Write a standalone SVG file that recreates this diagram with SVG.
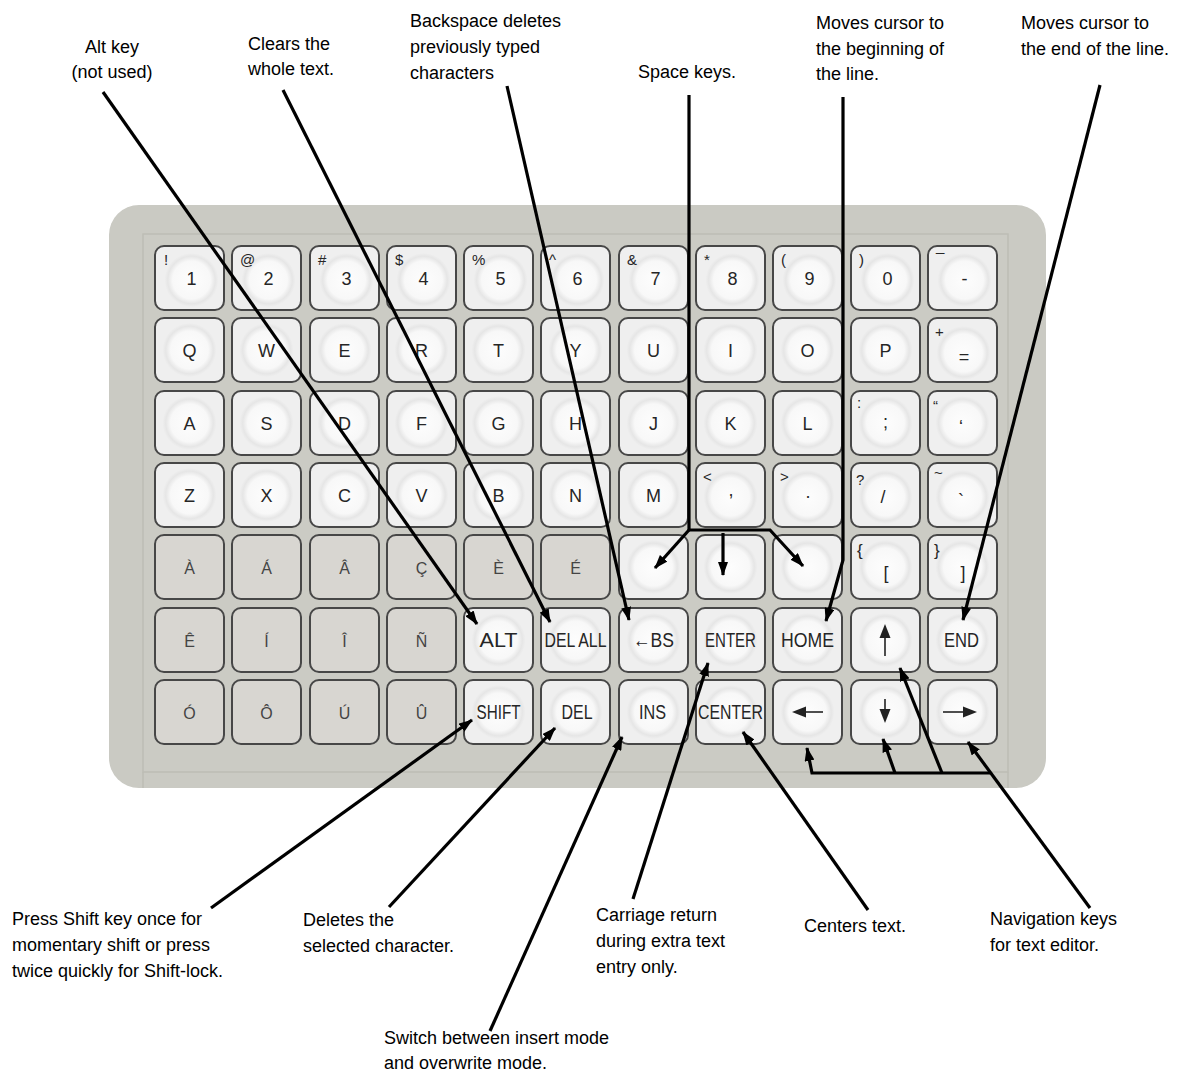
<svg xmlns="http://www.w3.org/2000/svg" width="1199" height="1075" viewBox="0 0 1199 1075">
<style>
.ann{font-family:"Liberation Sans",Arial,sans-serif;font-size:18px;fill:#000}
.k{fill:#efefef;stroke:#474747;stroke-width:2}
.ka{fill:#d8d6d1;stroke:#474747;stroke-width:2}
.c{fill:url(#rg)}
.m{font-family:"Liberation Sans",Arial,sans-serif;font-size:18px;fill:#262626;text-anchor:middle}
.s{font-family:"Liberation Sans",Arial,sans-serif;font-size:15px;fill:#262626}
.a{font-family:"Liberation Sans",Arial,sans-serif;font-size:16px;fill:#444;text-anchor:middle}
.w{font-family:"Liberation Sans",Arial,sans-serif;font-size:20px;fill:#262626;text-anchor:middle}
.conn path{stroke:#000;stroke-width:3.2;fill:none;stroke-linejoin:miter}
.ic{fill:#222}
.icl{stroke:#222;stroke-width:1.6}
</style>
<defs>
<radialGradient id="rg" cx="0.5" cy="0.5" r="0.5">
<stop offset="0" stop-color="#fdfdfd"/>
<stop offset="0.7" stop-color="#f8f8f8"/>
<stop offset="0.88" stop-color="#e6e6e6"/>
<stop offset="1" stop-color="#efefef"/>
</radialGradient>
<marker id="ah" viewBox="0 0 14 10" refX="13" refY="5" markerWidth="14" markerHeight="10" markerUnits="userSpaceOnUse" orient="auto">
<path d="M0,0 L14,5 L0,10 z" fill="#000"/>
</marker>
</defs>
<rect width="1199" height="1075" fill="#fff"/>
<g id="keyboard-body">
<rect x="109" y="205" width="937" height="583" rx="30" fill="#cacac3"/>
<rect x="143" y="234" width="865" height="538" fill="#cbcbc4" stroke="#bdbdb5" stroke-width="1.5"/>
<line x1="143" y1="772" x2="143" y2="788" stroke="#bdbdb5" stroke-width="1.5"/>
<line x1="1008" y1="772" x2="1008" y2="788" stroke="#bdbdb5" stroke-width="1.5"/>
</g>
<!-- Row 0 -->
<g id="key-1"><rect class="k" x="155" y="246" width="69" height="64" rx="9"/><circle class="c" cx="191.5" cy="280" r="27"/><text class="s" x="164" y="265">!</text><text class="m" x="191.5" y="285">1</text></g>
<g id="key-2"><rect class="k" x="232" y="246" width="69" height="64" rx="9"/><circle class="c" cx="268.5" cy="280" r="27"/><text class="s" x="240" y="265">@</text><text class="m" x="268.5" y="285">2</text></g>
<g id="key-3"><rect class="k" x="310" y="246" width="69" height="64" rx="9"/><circle class="c" cx="346.5" cy="280" r="27"/><text class="s" x="318" y="265">#</text><text class="m" x="346.5" y="285">3</text></g>
<g id="key-4"><rect class="k" x="387" y="246" width="69" height="64" rx="9"/><circle class="c" cx="423.5" cy="280" r="27"/><text class="s" x="395" y="265">$</text><text class="m" x="423.5" y="285">4</text></g>
<g id="key-5"><rect class="k" x="464" y="246" width="69" height="64" rx="9"/><circle class="c" cx="500.5" cy="280" r="27"/><text class="s" x="472" y="265">%</text><text class="m" x="500.5" y="285">5</text></g>
<g id="key-6"><rect class="k" x="541" y="246" width="69" height="64" rx="9"/><circle class="c" cx="577.5" cy="280" r="27"/><text class="s" x="549" y="265">^</text><text class="m" x="577.5" y="285">6</text></g>
<g id="key-7"><rect class="k" x="619" y="246" width="69" height="64" rx="9"/><circle class="c" cx="655.5" cy="280" r="27"/><text class="s" x="627" y="265">&amp;</text><text class="m" x="655.5" y="285">7</text></g>
<g id="key-8"><rect class="k" x="696" y="246" width="69" height="64" rx="9"/><circle class="c" cx="732.5" cy="280" r="27"/><text class="s" x="704" y="265">*</text><text class="m" x="732.5" y="285">8</text></g>
<g id="key-9"><rect class="k" x="773" y="246" width="69" height="64" rx="9"/><circle class="c" cx="809.5" cy="280" r="27"/><text class="s" x="781" y="265">(</text><text class="m" x="809.5" y="285">9</text></g>
<g id="key-0"><rect class="k" x="851" y="246" width="69" height="64" rx="9"/><circle class="c" cx="887.5" cy="280" r="27"/><text class="s" x="859" y="265">)</text><text class="m" x="887.5" y="285">0</text></g>
<g id="key-minus"><rect class="k" x="928" y="246" width="69" height="64" rx="9"/><circle class="c" cx="964.5" cy="280" r="27"/><text class="s" x="936" y="251">_</text><text class="m" x="964.5" y="285">-</text></g>
<!-- Row 1 -->
<g id="key-q"><rect class="k" x="155" y="318" width="69" height="64" rx="9"/><circle class="c" cx="189.5" cy="350" r="27"/><text class="m" x="189.5" y="357">Q</text></g>
<g id="key-w"><rect class="k" x="232" y="318" width="69" height="64" rx="9"/><circle class="c" cx="266.5" cy="350" r="27"/><text class="m" x="266.5" y="357">W</text></g>
<g id="key-e"><rect class="k" x="310" y="318" width="69" height="64" rx="9"/><circle class="c" cx="344.5" cy="350" r="27"/><text class="m" x="344.5" y="357">E</text></g>
<g id="key-r"><rect class="k" x="387" y="318" width="69" height="64" rx="9"/><circle class="c" cx="421.5" cy="350" r="27"/><text class="m" x="421.5" y="357">R</text></g>
<g id="key-t"><rect class="k" x="464" y="318" width="69" height="64" rx="9"/><circle class="c" cx="498.5" cy="350" r="27"/><text class="m" x="498.5" y="357">T</text></g>
<g id="key-y"><rect class="k" x="541" y="318" width="69" height="64" rx="9"/><circle class="c" cx="575.5" cy="350" r="27"/><text class="m" x="575.5" y="357">Y</text></g>
<g id="key-u"><rect class="k" x="619" y="318" width="69" height="64" rx="9"/><circle class="c" cx="653.5" cy="350" r="27"/><text class="m" x="653.5" y="357">U</text></g>
<g id="key-i"><rect class="k" x="696" y="318" width="69" height="64" rx="9"/><circle class="c" cx="730.5" cy="350" r="27"/><text class="m" x="730.5" y="357">I</text></g>
<g id="key-o"><rect class="k" x="773" y="318" width="69" height="64" rx="9"/><circle class="c" cx="807.5" cy="350" r="27"/><text class="m" x="807.5" y="357">O</text></g>
<g id="key-p"><rect class="k" x="851" y="318" width="69" height="64" rx="9"/><circle class="c" cx="885.5" cy="350" r="27"/><text class="m" x="885.5" y="357">P</text></g>
<g id="key-equals"><rect class="k" x="928" y="318" width="69" height="64" rx="9"/><circle class="c" cx="963.5" cy="353" r="27"/><text class="s" x="935" y="337">+</text><text class="m" x="964" y="363">=</text></g>
<!-- Row 2 -->
<g id="key-a"><rect class="k" x="155" y="391" width="69" height="64" rx="9"/><circle class="c" cx="189.5" cy="423" r="27"/><text class="m" x="189.5" y="430">A</text></g>
<g id="key-s"><rect class="k" x="232" y="391" width="69" height="64" rx="9"/><circle class="c" cx="266.5" cy="423" r="27"/><text class="m" x="266.5" y="430">S</text></g>
<g id="key-d"><rect class="k" x="310" y="391" width="69" height="64" rx="9"/><circle class="c" cx="344.5" cy="423" r="27"/><text class="m" x="344.5" y="430">D</text></g>
<g id="key-f"><rect class="k" x="387" y="391" width="69" height="64" rx="9"/><circle class="c" cx="421.5" cy="423" r="27"/><text class="m" x="421.5" y="430">F</text></g>
<g id="key-g"><rect class="k" x="464" y="391" width="69" height="64" rx="9"/><circle class="c" cx="498.5" cy="423" r="27"/><text class="m" x="498.5" y="430">G</text></g>
<g id="key-h"><rect class="k" x="541" y="391" width="69" height="64" rx="9"/><circle class="c" cx="575.5" cy="423" r="27"/><text class="m" x="575.5" y="430">H</text></g>
<g id="key-j"><rect class="k" x="619" y="391" width="69" height="64" rx="9"/><circle class="c" cx="653.5" cy="423" r="27"/><text class="m" x="653.5" y="430">J</text></g>
<g id="key-k"><rect class="k" x="696" y="391" width="69" height="64" rx="9"/><circle class="c" cx="730.5" cy="423" r="27"/><text class="m" x="730.5" y="430">K</text></g>
<g id="key-l"><rect class="k" x="773" y="391" width="69" height="64" rx="9"/><circle class="c" cx="807.5" cy="423" r="27"/><text class="m" x="807.5" y="430">L</text></g>
<g id="key-semicolon"><rect class="k" x="851" y="391" width="69" height="64" rx="9"/><circle class="c" cx="885.5" cy="423" r="27"/><text class="s" x="857" y="408">:</text><text class="m" x="885.5" y="428">;</text></g>
<g id="key-quote"><rect class="k" x="928" y="391" width="69" height="64" rx="9"/><circle class="c" cx="962.5" cy="423" r="27"/><text class="s" x="933" y="411">“</text><text class="m" x="961" y="433">‘</text></g>
<!-- Row 3 -->
<g id="key-z"><rect class="k" x="155" y="463" width="69" height="64" rx="9"/><circle class="c" cx="189.5" cy="495" r="27"/><text class="m" x="189.5" y="502">Z</text></g>
<g id="key-x"><rect class="k" x="232" y="463" width="69" height="64" rx="9"/><circle class="c" cx="266.5" cy="495" r="27"/><text class="m" x="266.5" y="502">X</text></g>
<g id="key-c"><rect class="k" x="310" y="463" width="69" height="64" rx="9"/><circle class="c" cx="344.5" cy="495" r="27"/><text class="m" x="344.5" y="502">C</text></g>
<g id="key-v"><rect class="k" x="387" y="463" width="69" height="64" rx="9"/><circle class="c" cx="421.5" cy="495" r="27"/><text class="m" x="421.5" y="502">V</text></g>
<g id="key-b"><rect class="k" x="464" y="463" width="69" height="64" rx="9"/><circle class="c" cx="498.5" cy="495" r="27"/><text class="m" x="498.5" y="502">B</text></g>
<g id="key-n"><rect class="k" x="541" y="463" width="69" height="64" rx="9"/><circle class="c" cx="575.5" cy="495" r="27"/><text class="m" x="575.5" y="502">N</text></g>
<g id="key-m"><rect class="k" x="619" y="463" width="69" height="64" rx="9"/><circle class="c" cx="653.5" cy="495" r="27"/><text class="m" x="653.5" y="502">M</text></g>
<g id="key-comma"><rect class="k" x="696" y="463" width="69" height="64" rx="9"/><circle class="c" cx="730.5" cy="497" r="27"/><text class="s" x="703" y="482">&lt;</text><text class="m" x="731" y="496">,</text></g>
<g id="key-period"><rect class="k" x="773" y="463" width="69" height="64" rx="9"/><circle class="c" cx="807.5" cy="497" r="27"/><text class="s" x="780" y="482">&gt;</text><text class="m" x="808" y="498">.</text></g>
<g id="key-slash"><rect class="k" x="851" y="463" width="69" height="64" rx="9"/><circle class="c" cx="885.5" cy="497" r="27"/><text class="s" x="856" y="485">?</text><text class="m" x="883" y="503">/</text></g>
<g id="key-grave"><rect class="k" x="928" y="463" width="69" height="64" rx="9"/><circle class="c" cx="962.5" cy="497" r="27"/><text class="s" x="934" y="478">~</text><text class="m" x="961" y="507">`</text></g>
<!-- Row 4 -->
<g id="key-agrave"><rect class="ka" x="155" y="535" width="69" height="64" rx="9"/><text class="a" x="189.5" y="574">À</text></g>
<g id="key-aacute"><rect class="ka" x="232" y="535" width="69" height="64" rx="9"/><text class="a" x="266.5" y="574">Á</text></g>
<g id="key-acirc"><rect class="ka" x="310" y="535" width="69" height="64" rx="9"/><text class="a" x="344.5" y="574">Â</text></g>
<g id="key-ccedil"><rect class="ka" x="387" y="535" width="69" height="64" rx="9"/><text class="a" x="421.5" y="574">Ç</text></g>
<g id="key-egrave"><rect class="ka" x="464" y="535" width="69" height="64" rx="9"/><text class="a" x="498.5" y="574">È</text></g>
<g id="key-eacute"><rect class="ka" x="541" y="535" width="69" height="64" rx="9"/><text class="a" x="575.5" y="574">É</text></g>
<g id="key-space1"><rect class="k" x="619" y="535" width="69" height="64" rx="9"/><circle class="c" cx="653.5" cy="567" r="27"/></g>
<g id="key-space2"><rect class="k" x="696" y="535" width="69" height="64" rx="9"/><circle class="c" cx="730.5" cy="567" r="27"/></g>
<g id="key-space3"><rect class="k" x="773" y="535" width="69" height="64" rx="9"/><circle class="c" cx="807.5" cy="567" r="27"/></g>
<g id="key-lbracket"><rect class="k" x="851" y="535" width="69" height="64" rx="9"/><circle class="c" cx="885.5" cy="567" r="27"/><text class="s" x="857" y="556" style="font-size:17px">{</text><text class="m" x="886" y="579">[</text></g>
<g id="key-rbracket"><rect class="k" x="928" y="535" width="69" height="64" rx="9"/><circle class="c" cx="962.5" cy="567" r="27"/><text class="s" x="934" y="556" style="font-size:17px">}</text><text class="m" x="963" y="579">]</text></g>
<!-- Row 5 -->
<g id="key-ecirc"><rect class="ka" x="155" y="608" width="69" height="64" rx="9"/><text class="a" x="189.5" y="647">Ê</text></g>
<g id="key-iacute"><rect class="ka" x="232" y="608" width="69" height="64" rx="9"/><text class="a" x="266.5" y="647">Í</text></g>
<g id="key-icirc"><rect class="ka" x="310" y="608" width="69" height="64" rx="9"/><text class="a" x="344.5" y="647">Î</text></g>
<g id="key-ntilde"><rect class="ka" x="387" y="608" width="69" height="64" rx="9"/><text class="a" x="421.5" y="647">Ñ</text></g>
<g id="key-alt"><rect class="k" x="464" y="608" width="69" height="64" rx="9"/><circle class="c" cx="498.5" cy="640" r="27"/><text class="w" x="498.5" y="647" textLength="38" lengthAdjust="spacingAndGlyphs">ALT</text></g>
<g id="key-delall"><rect class="k" x="541" y="608" width="69" height="64" rx="9"/><circle class="c" cx="575.5" cy="640" r="27"/><text class="w" x="575.5" y="647" textLength="62" lengthAdjust="spacingAndGlyphs">DEL ALL</text></g>
<g id="key-bs"><rect class="k" x="619" y="608" width="69" height="64" rx="9"/><circle class="c" cx="653.5" cy="640" r="27"/><text class="w" x="653.5" y="647" textLength="41" lengthAdjust="spacingAndGlyphs">←BS</text></g>
<g id="key-enter"><rect class="k" x="696" y="608" width="69" height="64" rx="9"/><circle class="c" cx="730.5" cy="640" r="27"/><text class="w" x="730.5" y="647" textLength="51" lengthAdjust="spacingAndGlyphs">ENTER</text></g>
<g id="key-home"><rect class="k" x="773" y="608" width="69" height="64" rx="9"/><circle class="c" cx="807.5" cy="640" r="27"/><text class="w" x="807.5" y="647" textLength="53" lengthAdjust="spacingAndGlyphs">HOME</text></g>
<g id="key-up"><rect class="k" x="851" y="608" width="69" height="64" rx="9"/><circle class="c" cx="885.5" cy="640" r="27"/><line class="icl" x1="885" y1="634" x2="885" y2="656"/><path class="ic" d="M885,624 L879.5,638 L890.5,638 z"/></g>
<g id="key-end"><rect class="k" x="928" y="608" width="69" height="64" rx="9"/><circle class="c" cx="962.5" cy="640" r="27"/><text class="w" x="961.5" y="647" textLength="35" lengthAdjust="spacingAndGlyphs">END</text></g>
<!-- Row 6 -->
<g id="key-oacute"><rect class="ka" x="155" y="680" width="69" height="64" rx="9"/><text class="a" x="189.5" y="719">Ó</text></g>
<g id="key-ocirc"><rect class="ka" x="232" y="680" width="69" height="64" rx="9"/><text class="a" x="266.5" y="719">Ô</text></g>
<g id="key-uacute"><rect class="ka" x="310" y="680" width="69" height="64" rx="9"/><text class="a" x="344.5" y="719">Ú</text></g>
<g id="key-ucirc"><rect class="ka" x="387" y="680" width="69" height="64" rx="9"/><text class="a" x="421.5" y="719">Û</text></g>
<g id="key-shift"><rect class="k" x="464" y="680" width="69" height="64" rx="9"/><circle class="c" cx="498.5" cy="712" r="27"/><text class="w" x="498.5" y="719" textLength="44" lengthAdjust="spacingAndGlyphs">SHIFT</text></g>
<g id="key-del"><rect class="k" x="541" y="680" width="69" height="64" rx="9"/><circle class="c" cx="575.5" cy="712" r="27"/><text class="w" x="577" y="719" textLength="31" lengthAdjust="spacingAndGlyphs">DEL</text></g>
<g id="key-ins"><rect class="k" x="619" y="680" width="69" height="64" rx="9"/><circle class="c" cx="653.5" cy="712" r="27"/><text class="w" x="652.5" y="719" textLength="27" lengthAdjust="spacingAndGlyphs">INS</text></g>
<g id="key-center"><rect class="k" x="696" y="680" width="69" height="64" rx="9"/><circle class="c" cx="730.5" cy="712" r="27"/><text class="w" x="730.5" y="719" textLength="65" lengthAdjust="spacingAndGlyphs">CENTER</text></g>
<g id="key-left"><rect class="k" x="773" y="680" width="69" height="64" rx="9"/><circle class="c" cx="807.5" cy="712" r="27"/><line class="icl" x1="802" y1="712" x2="823" y2="712"/><path class="ic" d="M792,712 L806,706.5 L806,717.5 z"/></g>
<g id="key-down"><rect class="k" x="851" y="680" width="69" height="64" rx="9"/><circle class="c" cx="885.5" cy="712" r="27"/><line class="icl" x1="885" y1="699" x2="885" y2="714"/><path class="ic" d="M885,723 L879.5,709 L890.5,709 z"/></g>
<g id="key-right"><rect class="k" x="928" y="680" width="69" height="64" rx="9"/><circle class="c" cx="962.5" cy="712" r="27"/><line class="icl" x1="943" y1="712" x2="966" y2="712"/><path class="ic" d="M977,712 L963,706.5 L963,717.5 z"/></g>
<!-- Annotations -->
<g id="label-alt"><text class="ann" x="112" y="53" text-anchor="middle">Alt key</text><text class="ann" x="112" y="78" text-anchor="middle">(not used)</text></g>
<g id="label-clears"><text class="ann" x="248" y="50">Clears the</text><text class="ann" x="248" y="75">whole text.</text></g>
<g id="label-backspace"><text class="ann" x="410" y="27">Backspace deletes</text><text class="ann" x="410" y="53">previously typed</text><text class="ann" x="410" y="79">characters</text></g>
<g id="label-space"><text class="ann" x="638" y="78">Space keys.</text></g>
<g id="label-home"><text class="ann" x="816" y="29">Moves cursor to</text><text class="ann" x="816" y="55">the beginning of</text><text class="ann" x="816" y="80">the line.</text></g>
<g id="label-end"><text class="ann" x="1021" y="29">Moves cursor to</text><text class="ann" x="1021" y="55">the end of the line.</text></g>
<g id="label-shift"><text class="ann" x="12" y="925">Press Shift key once for</text><text class="ann" x="12" y="951">momentary shift or press</text><text class="ann" x="12" y="977">twice quickly for Shift-lock.</text></g>
<g id="label-del"><text class="ann" x="303" y="926">Deletes the</text><text class="ann" x="303" y="952">selected character.</text></g>
<g id="label-enter"><text class="ann" x="596" y="921">Carriage return</text><text class="ann" x="596" y="947">during extra text</text><text class="ann" x="596" y="973">entry only.</text></g>
<g id="label-center"><text class="ann" x="804" y="932">Centers text.</text></g>
<g id="label-nav"><text class="ann" x="990" y="925">Navigation keys</text><text class="ann" x="990" y="951">for text editor.</text></g>
<g id="label-ins"><text class="ann" x="384" y="1044">Switch between insert mode</text><text class="ann" x="384" y="1069">and overwrite mode.</text></g>
<!-- Connectors -->
<g id="connectors" class="conn">
<path d="M103,92 L477,624" marker-end="url(#ah)"/>
<path d="M283,90 L550,622" marker-end="url(#ah)"/>
<path d="M507,86 L629,620" marker-end="url(#ah)"/>
<path d="M689,95 L689,530 L770,530 L803,566" marker-end="url(#ah)"/>
<path d="M689,530 L655,568" marker-end="url(#ah)"/>
<path d="M723,533 L723,575" marker-end="url(#ah)"/>
<path d="M843,97 L843,560 L826,621" marker-end="url(#ah)"/>
<path d="M1100,85 L963,620" marker-end="url(#ah)"/>
<path d="M211,908 L472,720" marker-end="url(#ah)"/>
<path d="M389,907 L555,728" marker-end="url(#ah)"/>
<path d="M490,1031 L622,737" marker-end="url(#ah)"/>
<path d="M633,899 L708,663" marker-end="url(#ah)"/>
<path d="M868,910 L743,732" marker-end="url(#ah)"/>
<path d="M1090,908 L968,742" marker-end="url(#ah)"/>
<path d="M990,773 L812,773 L807,748" marker-end="url(#ah)"/>
<path d="M895,773 L883,739" marker-end="url(#ah)"/>
<path d="M942,773 L900,668" marker-end="url(#ah)"/>
</g>
</svg>
